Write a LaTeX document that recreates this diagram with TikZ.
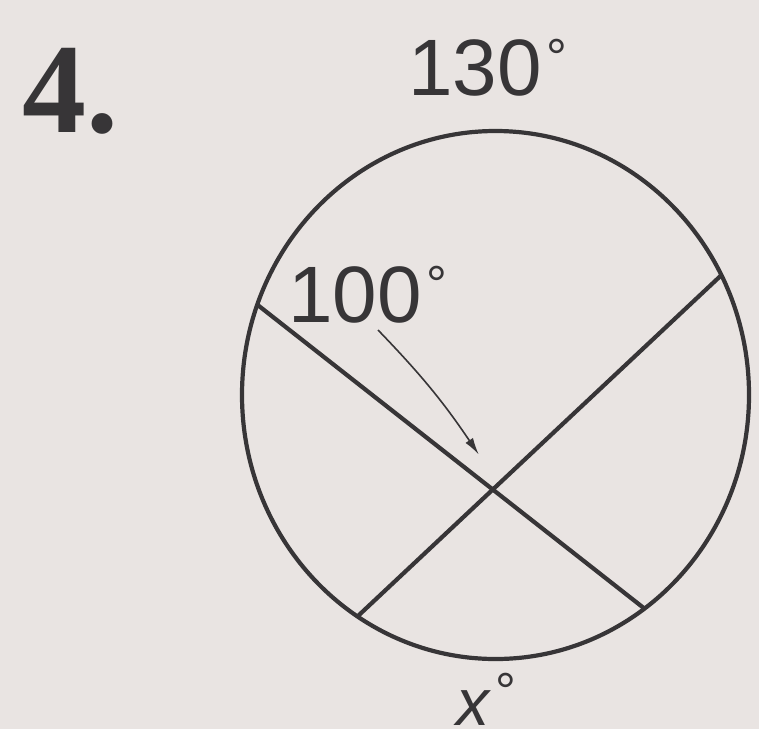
\documentclass[tikz,border=0pt]{standalone}
\usepackage{fontspec}
\setmainfont{Liberation Sans}
\newfontfamily\probfont{Liberation Serif}
\usetikzlibrary{arrows.meta,calc}
\definecolor{paper}{RGB}{233,228,226}
\definecolor{ink}{RGB}{55,53,55}
\newcommand{\dg}{\hspace{0.06em}\raisebox{0.24em}{\fontsize{52}{52}\selectfont °}}

\begin{document}
\begin{tikzpicture}[x=1pt, y=-1pt, every node/.style={inner sep=0pt, text=ink}, chord/.style={draw=ink, line width=4.2pt}, arcmark/.style={font=\fontsize{80}{80}\selectfont, anchor=base west}]
	\fill[paper] (0,0) rectangle (759,729);
	\useasboundingbox (0,0) rectangle (759,729);
	\coordinate (O) at (495.5,395);
	\draw[chord] (O) ellipse [x radius=253.5, y radius=264];
	\coordinate (A1) at (257.3,304.7);
	\coordinate (A2) at (644.5,608.6);
	\coordinate (B1) at (721.4,275.1);
	\coordinate (B2) at (357.4,616.5);
	\draw[chord] (A1) -- (A2);
	\draw[chord] (B1) -- (B2);
	\coordinate (X) at (intersection of A1--A2 and B1--B2);
	\coordinate (tip) at ($(X)+(-14,-35)$);
	\node[anchor=base west, font={\fontsize{128}{128}\probfont\bfseries}] (num) at (22,132) {4.};
	\node[arcmark] (L130) at (408,95) {130\dg};
	\node[arcmark] (L100) at (288,322) {100\dg};
	\node[arcmark, font=\fontsize{66}{66}\selectfont] (Lx) at (456,725) {\textit{x}\dg};
	\draw[ink, line width=1.6pt, -{Latex[length=17pt,width=9pt]}] ([shift={(90,8)}]L100.base west) to[bend left=5] (tip);
\end{tikzpicture}
\end{document}
